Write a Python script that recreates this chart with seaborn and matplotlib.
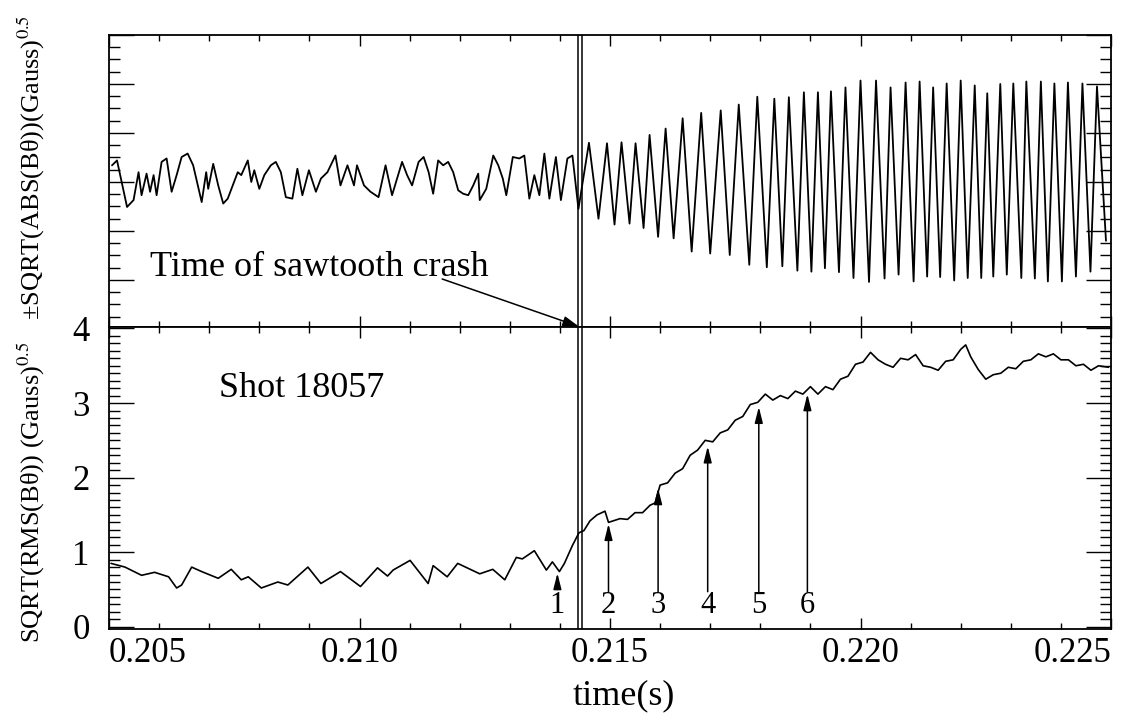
import matplotlib
matplotlib.use("Agg")
import matplotlib.pyplot as plt
import seaborn as sns
import pandas as pd
from matplotlib.ticker import MultipleLocator

sns.set_theme(style="ticks")
plt.rcParams["font.family"] = ["Liberation Serif", "DejaVu Serif"]
plt.rcParams["mathtext.fontset"] = "stix"

# ---------------- data ----------------
# top panel: signed sqrt of B_theta (extrema of the trace)
top_t = [0.20506, 0.20516, 0.20536, 0.20549, 0.20559, 0.20565, 0.20575, 0.20582, 0.20589, 0.20595,
         0.20605, 0.20615, 0.20625, 0.20635, 0.20645, 0.20657, 0.20668, 0.20685, 0.20694, 0.20698,
         0.20708, 0.20718, 0.20728, 0.20737, 0.20747, 0.20757, 0.20764, 0.20777, 0.20784, 0.20790,
         0.20800, 0.20810, 0.20823, 0.20833, 0.20843, 0.20853, 0.20866, 0.20876, 0.20886, 0.20899,
         0.20913, 0.20923, 0.20936, 0.20952, 0.20962, 0.20976, 0.20989, 0.20995, 0.21009, 0.21022,
         0.21038, 0.21052, 0.21065, 0.21085, 0.21095, 0.21105, 0.21118, 0.21128, 0.21138, 0.21147,
         0.21157, 0.21167, 0.21177, 0.21187, 0.21197, 0.21207, 0.21217, 0.21227, 0.21237, 0.21240,
         0.21253, 0.21267, 0.21277, 0.21286, 0.21293, 0.21306, 0.21319, 0.21329, 0.21339, 0.21349,
         0.21359, 0.21369, 0.21379, 0.21392, 0.21402, 0.21415, 0.21425, 0.21437, 0.21458,
         0.21477, 0.21494, 0.21509, 0.21523, 0.21539, 0.21551, 0.21567, 0.21579, 0.21596, 0.21611,
         0.21627, 0.21645, 0.21663, 0.21682, 0.21700, 0.21721, 0.21739, 0.21757, 0.21778, 0.21794,
         0.21813, 0.21828, 0.21844, 0.21857, 0.21874, 0.21887, 0.21902, 0.21915, 0.21929, 0.21941,
         0.21957, 0.21970, 0.21986, 0.22000, 0.22017, 0.22031, 0.22048, 0.22060, 0.22076, 0.22090,
         0.22106, 0.22118, 0.22133, 0.22145, 0.22159, 0.22172, 0.22187, 0.22200, 0.22214, 0.22228,
         0.22241, 0.22253, 0.22265, 0.22279, 0.22292, 0.22305, 0.22321, 0.22331, 0.22348, 0.22360,
         0.22374, 0.22387, 0.22402, 0.22414, 0.22430, 0.22443, 0.22459, 0.22472, 0.22490]
top_v = [0.34, 0.44, -0.51, -0.37, 0.20, -0.27, 0.17, -0.20, 0.14, -0.27,
         0.41, 0.48, -0.20, 0.14, 0.51, 0.58, 0.34, -0.41, 0.20, -0.14,
         0.37, -0.07, -0.44, -0.34, -0.07, 0.20, 0.14, 0.44, 0.00, 0.24,
         -0.14, 0.14, 0.34, 0.41, 0.20, -0.31, -0.34, 0.27, -0.27, 0.24,
         -0.20, 0.07, 0.20, 0.54, -0.07, 0.34, -0.07, 0.34, -0.07, -0.20,
         -0.31, 0.34, -0.27, 0.41, 0.14, -0.07, 0.41, 0.51, 0.20, -0.24,
         0.44, 0.34, 0.41, 0.20, -0.17, -0.24, -0.27, -0.07, 0.17, -0.37,
         -0.14, 0.54, 0.34, 0.07, -0.27, 0.51, 0.48, 0.54, -0.34, 0.14,
         -0.27, 0.58, -0.34, 0.51, -0.37, 0.48, 0.54, -0.55, 0.80,
         -0.75, 0.79, -0.87, 0.81, -0.85, 0.79, -0.94, 0.96, -1.12, 1.09,
         -1.15, 1.30, -1.42, 1.41, -1.46, 1.46, -1.49, 1.58, -1.69, 1.74,
         -1.74, 1.70, -1.72, 1.73, -1.81, 1.83, -1.83, 1.83, -1.76, 1.85,
         -1.84, 1.93, -1.96, 2.07, -2.04, 2.07, -1.97, 1.93, -1.89, 2.03,
         -2.03, 2.05, -1.93, 1.93, -1.94, 2.01, -2.01, 2.07, -1.96, 1.97,
         -1.96, 1.81, -1.93, 2.00, -1.89, 2.01, -1.96, 2.05, -1.97, 2.05,
         -2.03, 2.01, -2.03, 2.03, -1.93, 2.01, -1.83, 1.95, -1.20]

# bottom panel: sqrt(rms(B_theta))
rms_t = [0.20504, 0.20532, 0.20565, 0.20591, 0.20619, 0.20635, 0.20645, 0.20665, 0.20685, 0.20718,
         0.20744, 0.20764, 0.20778, 0.20804, 0.20837, 0.20857, 0.20897, 0.20923, 0.20962, 0.21002,
         0.21036, 0.21056, 0.21067, 0.21101, 0.21137, 0.21147, 0.21175, 0.21196, 0.21240, 0.21266,
         0.21290, 0.21313, 0.21325, 0.21349, 0.21373, 0.21385, 0.21399, 0.21409, 0.21425, 0.21438,
         0.21448, 0.21460, 0.21474, 0.21490, 0.21497,
         0.21520, 0.21535, 0.21550, 0.21565, 0.21580, 0.21590, 0.21600, 0.21615, 0.21630, 0.21645,
         0.21660, 0.21675, 0.21690, 0.21705, 0.21720, 0.21735, 0.21750, 0.21765, 0.21780, 0.21795,
         0.21810, 0.21825, 0.21840, 0.21855, 0.21870, 0.21885, 0.21900, 0.21915, 0.21930, 0.21945,
         0.21960, 0.21975, 0.21990, 0.22005, 0.22020, 0.22035, 0.22050, 0.22065, 0.22080, 0.22095,
         0.22110, 0.22125, 0.22140, 0.22155, 0.22170, 0.22185, 0.22200, 0.22210, 0.22220, 0.22235,
         0.22250, 0.22265, 0.22280, 0.22295, 0.22310, 0.22325, 0.22340, 0.22355, 0.22370, 0.22385,
         0.22400, 0.22415, 0.22430, 0.22445, 0.22460, 0.22475, 0.22495]
rms_v = [0.85, 0.80, 0.69, 0.73, 0.67, 0.52, 0.56, 0.80, 0.74, 0.65,
         0.77, 0.63, 0.67, 0.52, 0.60, 0.56, 0.80, 0.58, 0.74, 0.54,
         0.79, 0.68, 0.76, 0.89, 0.58, 0.82, 0.67, 0.85, 0.71, 0.77,
         0.63, 0.93, 0.91, 1.02, 0.76, 0.87, 0.74, 0.85, 1.09, 1.26,
         1.29, 1.42, 1.50, 1.55, 1.40,
         1.45, 1.44, 1.53, 1.53, 1.63, 1.66, 1.90, 1.93, 2.06, 2.12,
         2.30, 2.37, 2.50, 2.48, 2.60, 2.64, 2.77, 2.82, 2.98, 3.01,
         3.12, 3.04, 3.10, 3.06, 3.16, 3.12, 3.22, 3.12, 3.22, 3.18,
         3.32, 3.36, 3.52, 3.55, 3.68, 3.58, 3.52, 3.48, 3.60, 3.58,
         3.65, 3.50, 3.48, 3.44, 3.56, 3.58, 3.72, 3.78, 3.62, 3.45,
         3.32, 3.38, 3.40, 3.48, 3.46, 3.56, 3.58, 3.66, 3.62, 3.66,
         3.58, 3.58, 3.50, 3.52, 3.44, 3.50, 3.48]

crash_lines = [0.21436, 0.21445]
marker_t = [0.21395, 0.21497, 0.21596, 0.21695, 0.21797, 0.21894]
marker_tip = [0.72, 1.38, 1.86, 2.42, 2.95, 3.12]
marker_tail = [0.50, 0.47, 0.47, 0.47, 0.47, 0.47]
marker_labels = ["1", "2", "3", "4", "5", "6"]
xtick_vals = [0.205, 0.210, 0.215, 0.220, 0.225]
xtick_text = ["0.205", "0.210", "0.215", "0.220", "0.225"]
ytick_vals = [0, 1, 2, 3, 4]
ytick_text = ["0", "1", "2", "3", "4"]

top_df = pd.DataFrame({"t": top_t, "v": top_v})
rms_df = pd.DataFrame({"t": rms_t, "v": rms_v})

# ---------------- figure ----------------
W, H = 1121, 724
fig = plt.figure(figsize=(W / 100, H / 100), dpi=100)
L, R = 109 / W, 1111 / W
ax1 = fig.add_axes([L, 1 - 327 / H, R - L, (327 - 35) / H])
ax2 = fig.add_axes([L, 1 - 629 / H, R - L, (629 - 327) / H])

sns.lineplot(data=top_df, x="t", y="v", ax=ax1, color="black", lw=1.3,
             estimator=None, sort=False)
sns.lineplot(data=rms_df, x="t", y="v", ax=ax2, color="black", lw=1.2,
             estimator=None, sort=False)

for ax in (ax1, ax2):
    ax.set_xlim(0.205, 0.225)
    for c in crash_lines:
        ax.axvline(c, color="black", lw=1.1)
    for s in ax.spines.values():
        s.set_linewidth(1.3)
        s.set_color("black")
    ax.xaxis.set_major_locator(MultipleLocator(0.005))
    ax.xaxis.set_minor_locator(MultipleLocator(0.001))
    ax.tick_params(which="both", direction="in", top=True, right=True,
                   color="black", width=1.0)
    ax.tick_params(axis="x", which="major", length=8)
    ax.tick_params(axis="x", which="minor", length=4)
    ax.tick_params(axis="y", which="major", length=18)
    ax.tick_params(axis="y", which="minor", length=8)
    ax.set_xlabel("")
    ax.set_ylabel("")

ax1.set_ylim(-2.96, 3.0)
ax1.yaxis.set_major_locator(MultipleLocator(1))
ax1.yaxis.set_minor_locator(MultipleLocator(0.25))
ax1.tick_params(labelleft=False, labelbottom=False)

ax2.set_ylim(-0.03, 4.02)
ax2.set_yticks(ytick_vals, ytick_text)
ax2.yaxis.set_minor_locator(MultipleLocator(0.1))
ax2.set_xticks(xtick_vals, xtick_text)
ax2.set_xlim(0.205, 0.225)
ax2.tick_params(axis="both", which="major", labelsize=25, labelcolor="black")
ax2.tick_params(axis="y", pad=14)
ax2.tick_params(axis="x", pad=6)
xl = ax2.get_xticklabels()
xl[0].set_ha("left")
xl[-1].set_ha("right")
ax2.set_xlabel("time(s)", fontsize=26, color="black", labelpad=6)
ax2.xaxis.set_label_coords(0.514, -0.165)

# annotations
ax1.text(0.20581, -1.755, "Time of sawtooth crash", fontsize=26, va="center",
         ha="left", color="black")
ax1.annotate("", xy=(0.21438, -2.95), xytext=(0.21165, -1.98),
             arrowprops=dict(arrowstyle="-|>,head_length=0.8,head_width=0.25",
                             color="black", lw=1.1, shrinkA=0, shrinkB=0),
             annotation_clip=False)
ax2.text(0.20720, 3.20, "Shot 18057", fontsize=26, va="center", ha="left",
         color="black")
for t, tip, tail, lab in zip(marker_t, marker_tip, marker_tail, marker_labels):
    ax2.annotate("", xy=(t, tip), xytext=(t, tail),
                 arrowprops=dict(arrowstyle="-|>,head_length=0.8,head_width=0.2",
                                 color="black", lw=1.1, shrinkA=0, shrinkB=0))
    ax2.text(t, 0.28, lab, fontsize=22, ha="center", va="center", color="black")

fig.text(31 / W, 1 - 168 / H, "±SQRT(ABS(Bθ))(Gauss)$^{0.5}$", rotation=90,
         fontsize=19, ha="center", va="center", color="black")
fig.text(31 / W, 1 - 492 / H, "SQRT(RMS(Bθ)) (Gauss)$^{0.5}$", rotation=90,
         fontsize=19, ha="center", va="center", color="black")

fig.savefig("out.png", dpi=100, facecolor="white")
